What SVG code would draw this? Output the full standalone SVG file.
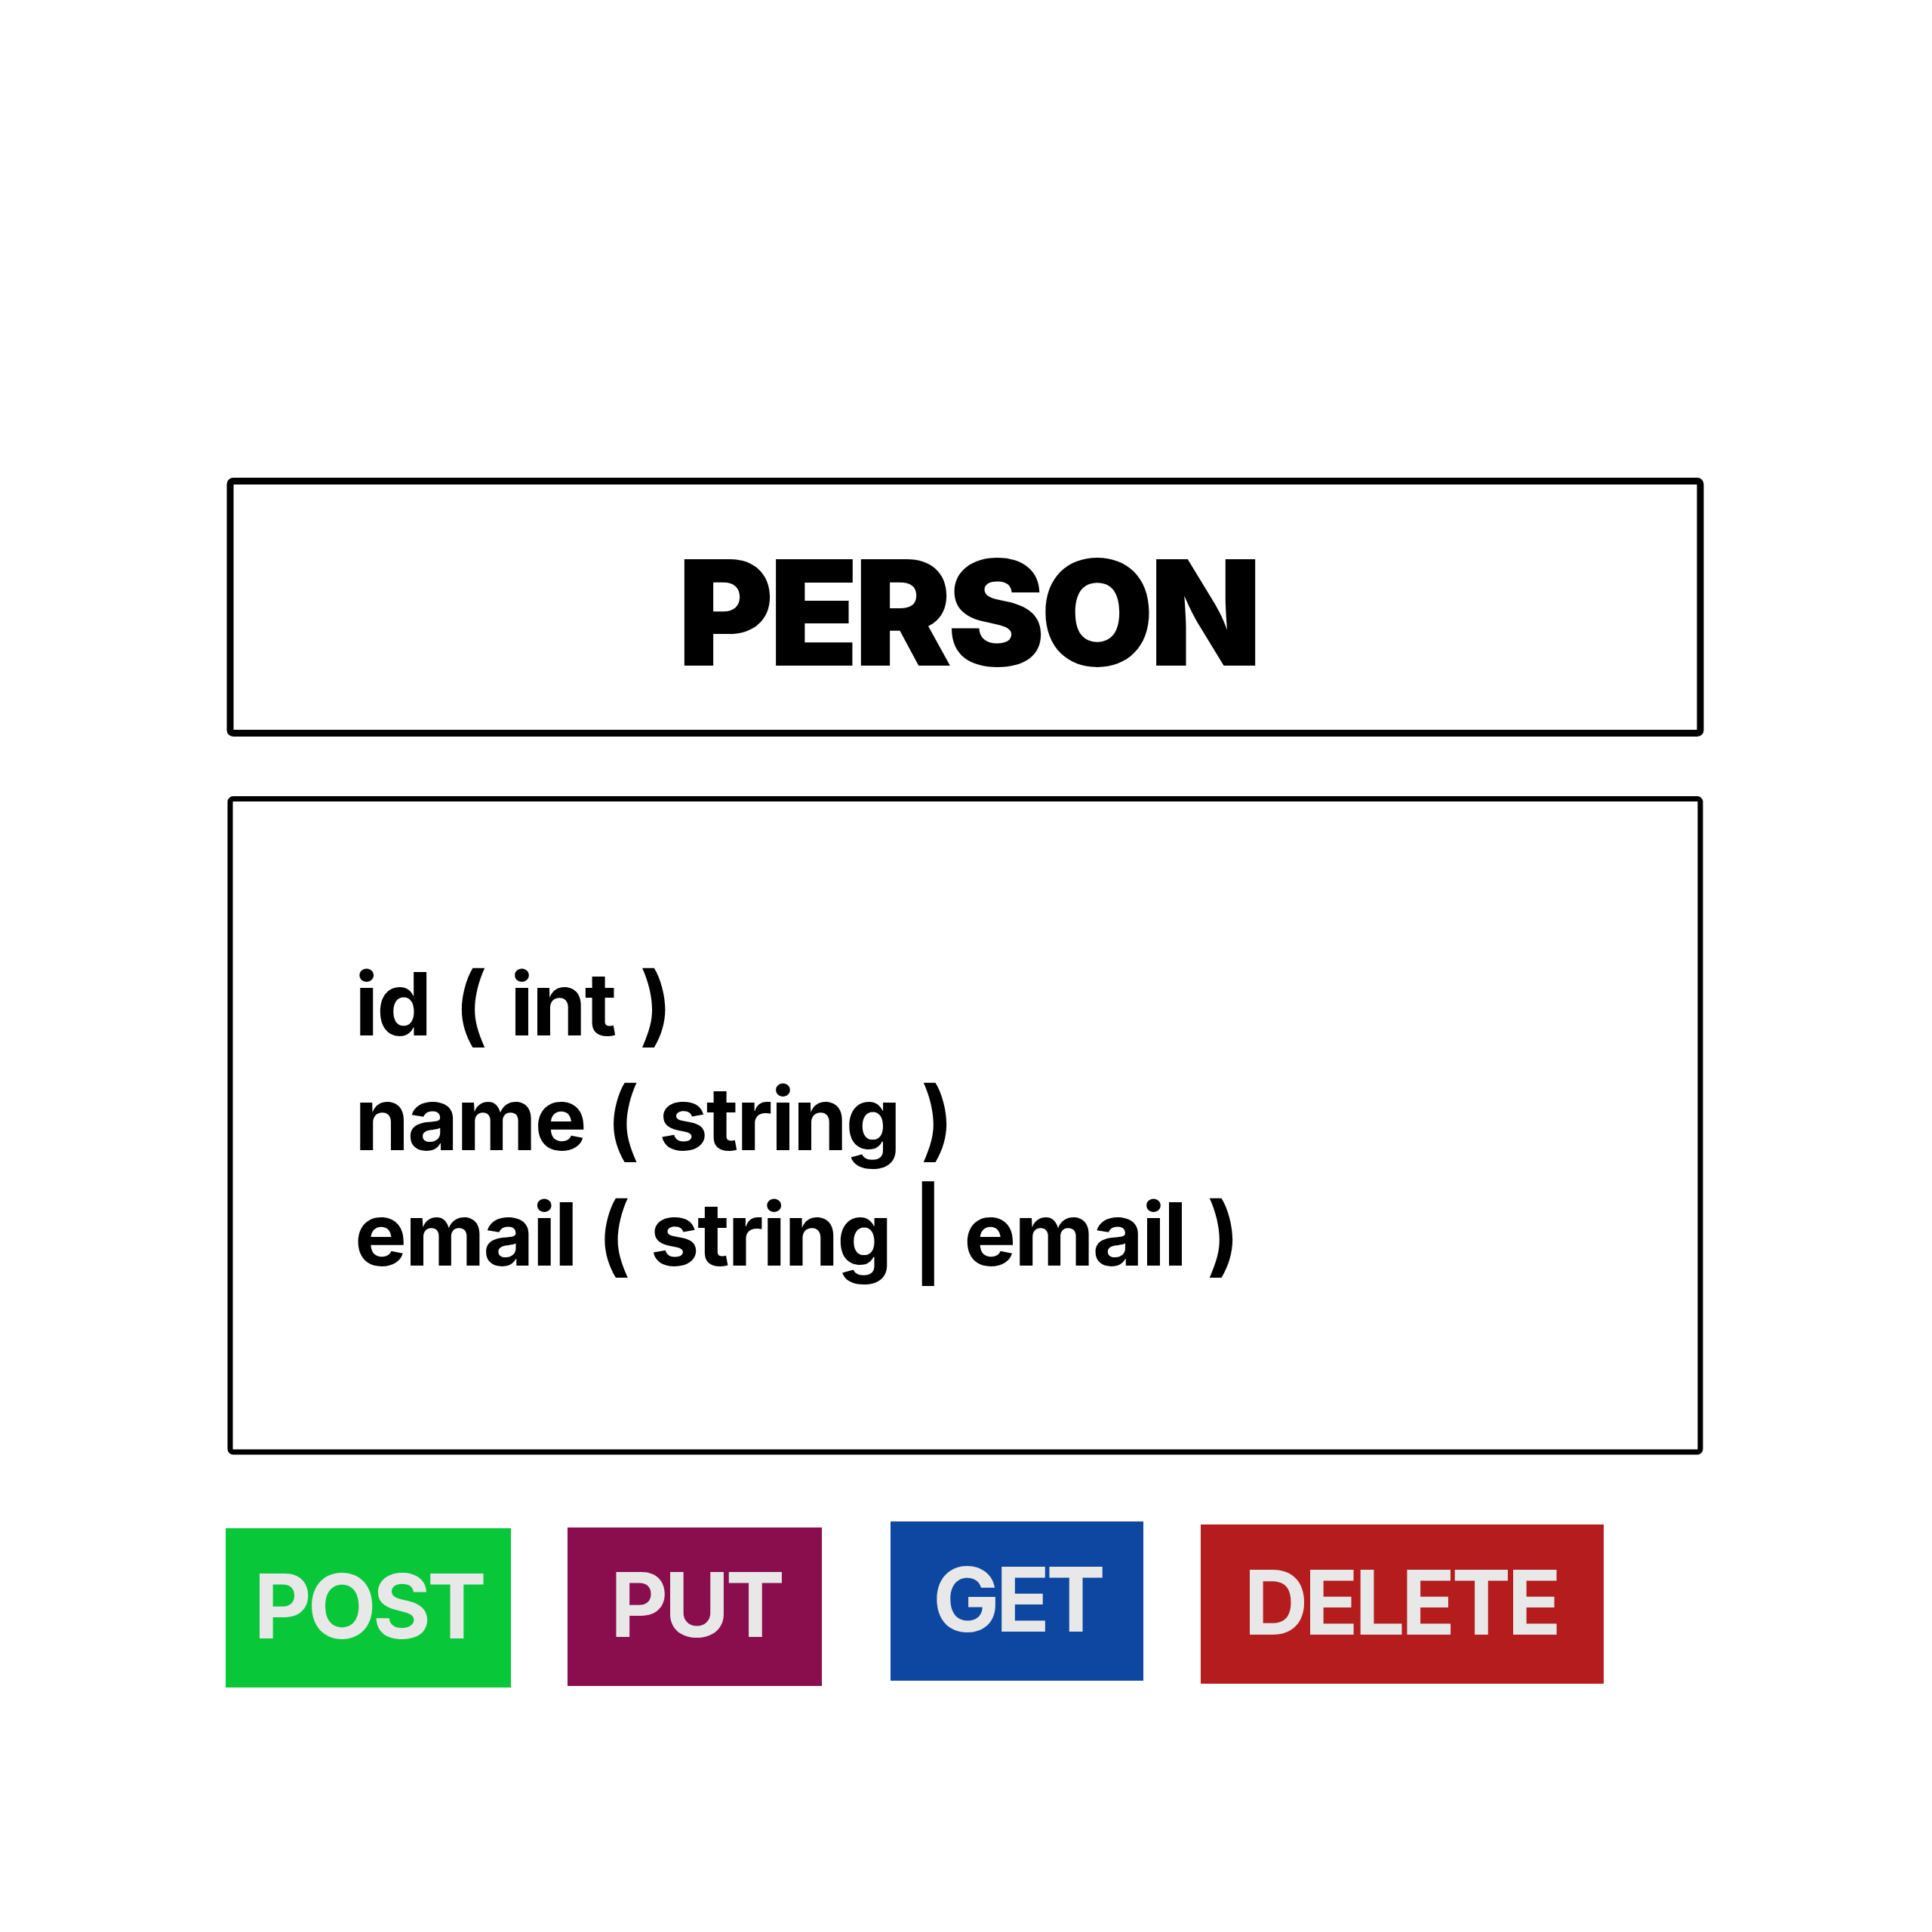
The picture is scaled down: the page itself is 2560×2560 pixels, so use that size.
<svg xmlns="http://www.w3.org/2000/svg" width="2560" height="2560" viewBox="0 0 2560 2560">
<style>
.box{fill:#ffffff;stroke:#000000;stroke-width:9}
.box2{fill:#ffffff;stroke:#000000;stroke-width:7}
.title{font-family:Inter,"Liberation Sans",sans-serif;font-weight:900;font-size:194px;fill:#000000;letter-spacing:-6px}
.field{font-family:Inter,"Liberation Sans",sans-serif;font-weight:700;font-size:116px;fill:#000000;letter-spacing:-2.3px}
.btn{font-family:Inter,"Liberation Sans",sans-serif;font-weight:700;font-size:118px;fill:#e8e8e8;letter-spacing:-5px}
</style>
<rect width="2560" height="2560" fill="#ffffff"/>
<g id="title-box">
<rect class="box" x="305" y="637.5" width="1948" height="334" rx="4"/>
<text class="title" x="1282" y="882" text-anchor="middle">PERSON</text>
</g>
<g id="fields-box">
<rect class="box2" x="305" y="1058.5" width="1948" height="865.5" rx="4"/>
<text class="field" x="470" y="1372" word-spacing="7">id ( int )</text>
<text class="field" x="470" y="1524" word-spacing="3">name ( string )</text>
<text class="field" x="470" y="1677" word-spacing="3">email ( string | email )</text>
</g>
<g id="post">
<rect x="299" y="2025" width="378" height="211" fill="#08c83a"/>
<text class="btn" x="488" y="2171" text-anchor="middle">POST</text>
</g>
<g id="put">
<rect x="752" y="2024" width="337" height="210" fill="#8a0e4e"/>
<text class="btn" x="922" y="2169" text-anchor="middle">PUT</text>
</g>
<g id="get">
<rect x="1180" y="2016" width="335" height="211" fill="#0e47a1"/>
<text class="btn" x="1348" y="2162" text-anchor="middle">GET</text>
</g>
<g id="delete">
<rect x="1591" y="2020" width="534" height="211" fill="#b41c1e"/>
<text class="btn" x="1856" y="2166" text-anchor="middle" letter-spacing="-3.5">DELETE</text>
</g>
<g id="connectors"/>
</svg>
